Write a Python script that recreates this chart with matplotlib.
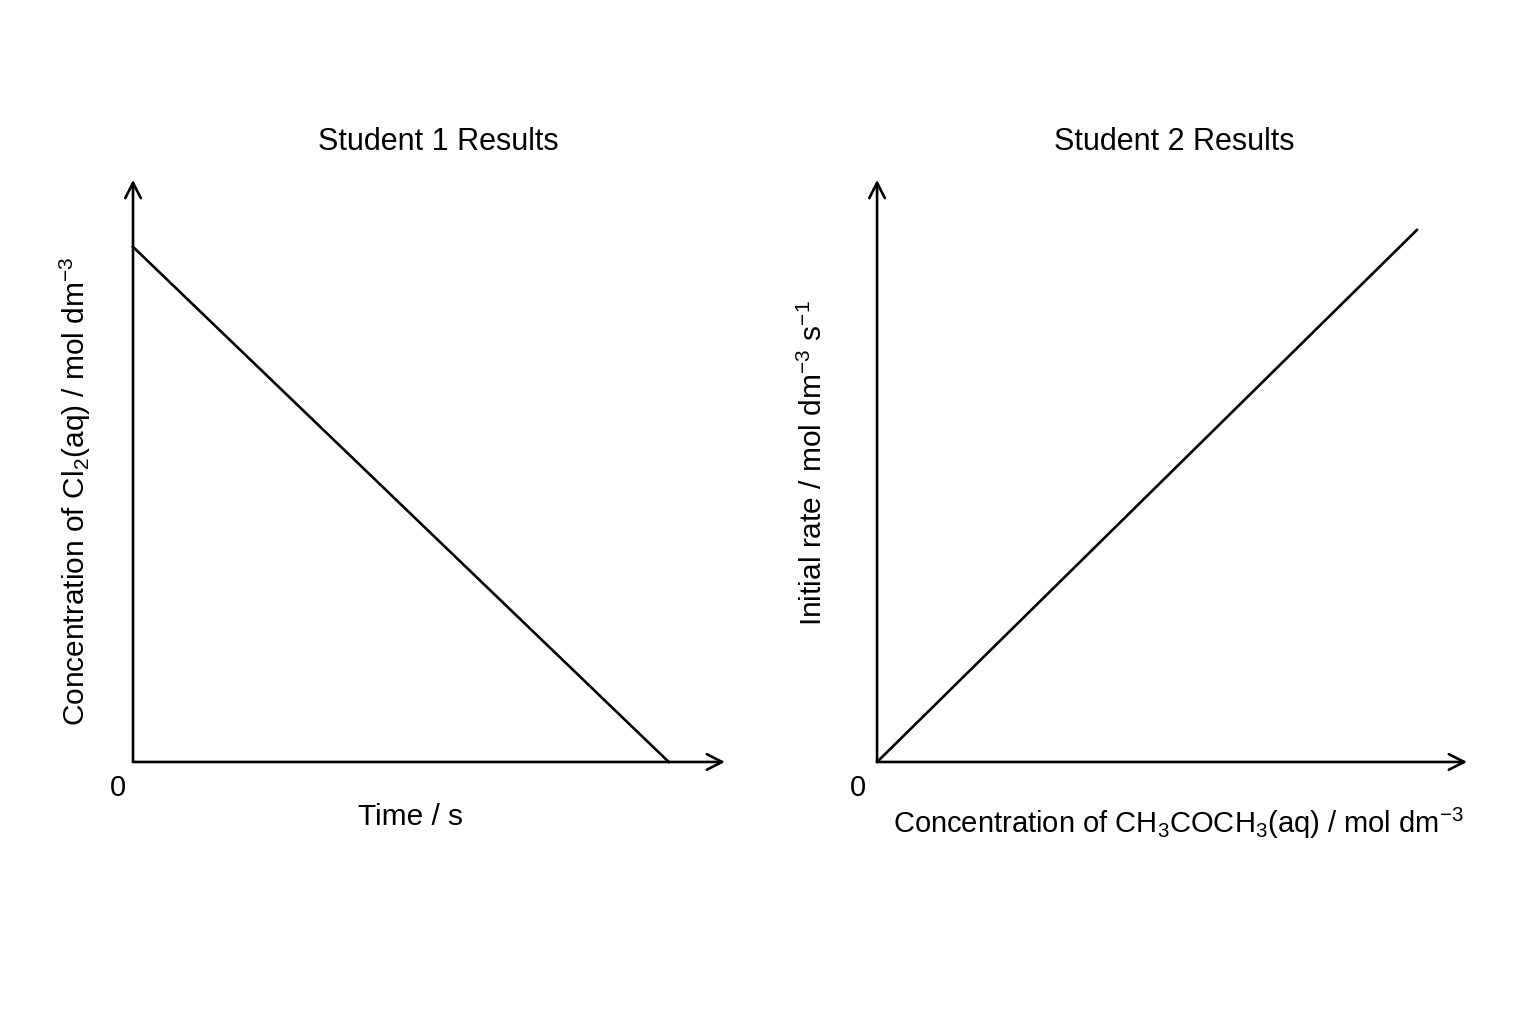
import matplotlib
matplotlib.use("Agg")
import matplotlib.pyplot as plt

plt.rcParams['font.family'] = ['Liberation Sans', 'DejaVu Sans']
plt.rcParams['mathtext.default'] = 'regular'

# ─── Data (arbitrary units) ───────────────────────────────────────────
s1_time = [0.0, 0.905]
s1_conc = [0.885, 0.0]

s2_conc = [0.0, 0.915]
s2_rate = [0.0, 0.914]

titles = ["Student 1 Results", "Student 2 Results"]
xlabels = ["Time / s", "Concentration of CH$_3$COCH$_3$(aq) / mol dm$^{-3}$"]
ylabels = ["Concentration of Cl$_2$(aq) / mol dm$^{-3}$",
           "Initial rate / mol dm$^{-3}$ s$^{-1}$"]

LW = 1.9


def draw_axes(ax):
    ax.set_xlim(0, 1)
    ax.set_ylim(0, 1)
    for sp in ax.spines.values():
        sp.set_visible(False)
    ax.set_xticks([])
    ax.set_yticks([])
    arrow = dict(arrowstyle='->,head_length=0.55,head_width=0.28',
                 color='black', lw=LW, mutation_scale=20,
                 shrinkA=0, shrinkB=0)
    ax.annotate('', xy=(1, 0), xytext=(0, 0), xycoords='axes fraction',
                arrowprops=arrow, annotation_clip=False)
    ax.annotate('', xy=(0, 1), xytext=(0, 0), xycoords='axes fraction',
                arrowprops=arrow, annotation_clip=False)


fig = plt.figure(figsize=(15.36, 10.24), dpi=100)
ax1 = fig.add_axes([0.0866, 0.2559, 0.3854, 0.5684])
ax2 = fig.add_axes([0.5710, 0.2559, 0.3841, 0.5684])

# ─── Student 1 ───────────────────────────────────────────────
draw_axes(ax1)
ax1.plot(s1_time, s1_conc, color='black', lw=LW, clip_on=False)
ax1.text(0.515, 1.066, titles[0], transform=ax1.transAxes,
         ha='center', va='center', fontsize=22)
ax1.text(-0.025, -0.045, '0', transform=ax1.transAxes,
         ha='center', va='center', fontsize=21)
ax1.text(0.468, -0.094, xlabels[0], transform=ax1.transAxes,
         ha='center', va='center', fontsize=21.5)
ax1.text(-0.098, 0.466, ylabels[0], transform=ax1.transAxes,
         ha='center', va='center', rotation=90, fontsize=21.5)

# ─── Student 2 ───────────────────────────────────────────────
draw_axes(ax2)
ax2.plot(s2_conc, s2_rate, color='black', lw=LW, clip_on=False)
ax2.text(0.503, 1.066, titles[1], transform=ax2.transAxes,
         ha='center', va='center', fontsize=22)
ax2.text(-0.032, -0.045, '0', transform=ax2.transAxes,
         ha='center', va='center', fontsize=21)
ax2.text(0.510, -0.106, xlabels[1], transform=ax2.transAxes,
         ha='center', va='center', fontsize=21)
ax2.text(-0.108, 0.514, ylabels[1], transform=ax2.transAxes,
         ha='center', va='center', rotation=90, fontsize=21.5)

fig.savefig('out.png', dpi=100, facecolor='white')
plt.close()
